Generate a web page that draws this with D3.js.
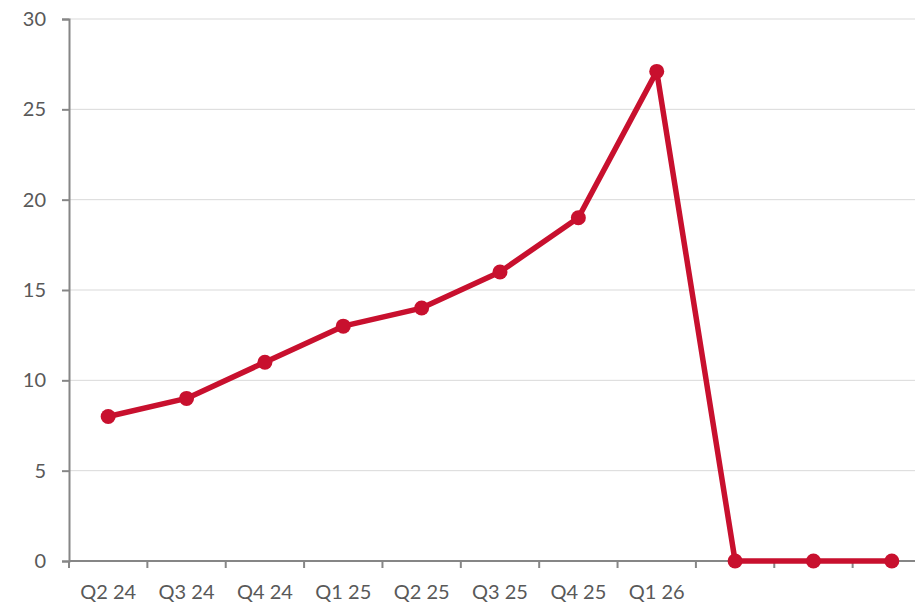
<!DOCTYPE html>
<html>
<head>
<meta charset="utf-8">
<script src="https://cdn.jsdelivr.net/npm/d3@7"></script>
<style>
	body { margin: 0; background: #fff; }
	svg text { font-family: Lato, "Open Sans", sans-serif; fill: #595959; }
</style>
</head>
<body>
<svg width="915" height="602"></svg>
<script>
var categories = ["Q2 24", "Q3 24", "Q4 24", "Q1 25", "Q2 25", "Q3 25", "Q4 25", "Q1 26", "c9", "c10", "c11"];
var tickLabels = ["Q2 24", "Q3 24", "Q4 24", "Q1 25", "Q2 25", "Q3 25", "Q4 25", "Q1 26", "", "", ""];
var values = [8, 9, 11, 13, 14, 16, 19, 27.1, 0, 0, 0];
var yTicks = [0, 5, 10, 15, 20, 25, 30];

var svg = d3.select("svg"),
	plotLeft = 69, plotRight = 931, plotTop = 19, plotBottom = 561;

var x = d3.scaleBand().domain(categories).range([plotLeft, plotRight]).padding(0);
var y = d3.scaleLinear().domain([0, 30]).range([plotBottom, plotTop]);

// grid
svg.append("g")
	.selectAll("line")
	.data(yTicks.filter(function(d) { return d > 0; }))
	.join("line")
	.attr("x1", plotLeft).attr("x2", plotRight)
	.attr("y1", function(d) { return y(d); })
	.attr("y2", function(d) { return y(d); })
	.attr("stroke", "#d9d9d9")
	.attr("stroke-width", 1);

// y axis
var yAxis = svg.append("g")
	.attr("transform", "translate(" + plotLeft + ",0)")
	.call(d3.axisLeft(y).tickValues(yTicks).tickSize(7).tickPadding(16));
yAxis.select(".domain").attr("stroke", "#868686").attr("stroke-width", 2);
yAxis.selectAll(".tick line").attr("stroke", "#868686").attr("stroke-width", 2);
yAxis.selectAll(".tick text").attr("font-size", 20).attr("fill", "#595959").attr("font-family", "Lato, sans-serif");

// x axis: ticks at band edges
var xAxis = svg.append("g")
	.attr("transform", "translate(0," + plotBottom + ")");
xAxis.append("line")
	.attr("x1", plotLeft).attr("x2", plotRight)
	.attr("stroke", "#868686").attr("stroke-width", 2);
xAxis.selectAll(".edge")
	.data(categories)
	.join("line")
	.attr("class", "edge")
	.attr("x1", function(d) { return x(d); })
	.attr("x2", function(d) { return x(d); })
	.attr("y1", 0).attr("y2", 7)
	.attr("stroke", "#868686").attr("stroke-width", 2);
xAxis.selectAll("text")
	.data(categories)
	.join("text")
	.attr("x", function(d) { return x(d) + x.bandwidth() / 2; })
	.attr("y", 38)
	.attr("text-anchor", "middle")
	.attr("font-size", 20)
	.text(function(d, i) { return tickLabels[i]; });

// series
var line = d3.line()
	.x(function(d, i) { return x(categories[i]) + x.bandwidth() / 2; })
	.y(function(d) { return y(d); });

svg.append("path")
	.datum(values)
	.attr("fill", "none")
	.attr("stroke", "#c8102e")
	.attr("stroke-width", 5.5)
	.attr("stroke-linejoin", "round")
	.attr("d", line);

svg.append("g")
	.selectAll("circle")
	.data(values)
	.join("circle")
	.attr("cx", function(d, i) { return x(categories[i]) + x.bandwidth() / 2; })
	.attr("cy", function(d) { return y(d); })
	.attr("r", 7.5)
	.attr("fill", "#c8102e");
</script>
</body>
</html>
